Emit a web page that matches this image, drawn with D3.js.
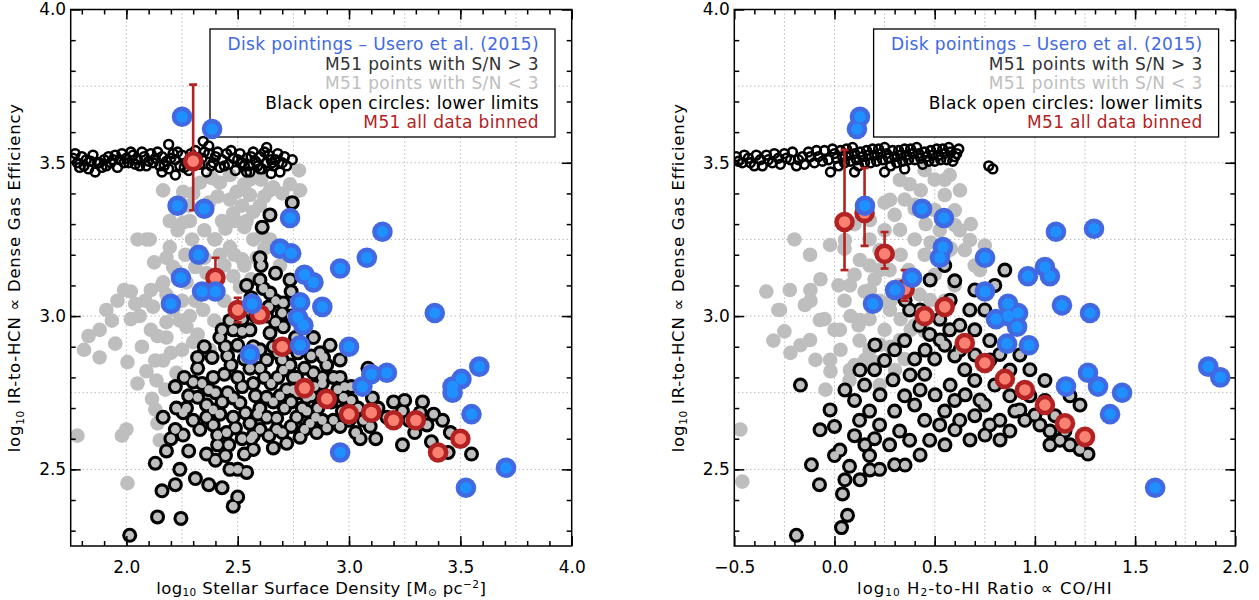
<!DOCTYPE html>
<html lang="en">
<head>
<meta charset="UTF-8">
<title>M51 dense gas efficiency</title>
<style>
  body { margin: 0; background: #fff; }
  svg { display: block; font-family: "DejaVu Sans", sans-serif; }
  .grid line { stroke: #999; stroke-width: 1; stroke-dasharray: 1 3; }
  .axis path { display: none; }
  .axis line { stroke: #000; stroke-width: 1.5; }
  .axis text { font-size: 17px; fill: #000; font-family: "DejaVu Sans", sans-serif; }
  .legend text { font-size: 17px; letter-spacing: 0.35px; }
  .title { font-size: 16.5px; fill: #000; }
</style>
</head>
<body>
<svg id="chart" width="1259" height="600"></svg>
<script src="https://cdn.jsdelivr.net/npm/d3@7"></script>
<script>
// ---- data, left panel: stellar surface density ----
const limitL = [[1.76,3.515],[1.78,3.50],[1.80,3.52],[1.81,3.49],[1.83,3.48],[1.84,3.505],[1.86,3.47],[1.87,3.50],[1.89,3.485],[1.90,3.51],
  [1.92,3.52],[1.93,3.50],[1.95,3.525],[1.97,3.51],[1.98,3.53],[2.00,3.515],[2.01,3.50],[2.03,3.525],[2.05,3.51],[2.06,3.49],
  [2.08,3.52],[2.10,3.505],[2.11,3.53],[2.13,3.515],[2.15,3.49],[2.16,3.52],[2.18,3.505],[2.19,3.48],[2.21,3.53],[2.22,3.51],
  [2.24,3.49],[2.25,3.525],[2.27,3.50],[2.28,3.475],[2.30,3.52],[2.31,3.54],[2.33,3.495],[2.34,3.515],[2.36,3.47],[2.37,3.53],
  [2.39,3.50],[2.40,3.52],[2.42,3.485],[2.43,3.51],[2.45,3.53],[2.46,3.495],[2.48,3.515],[2.49,3.475],[2.51,3.53],[2.52,3.50],
  [2.54,3.515],[2.55,3.49],[2.57,3.535],[2.58,3.505],[2.60,3.52],[2.61,3.48],[2.63,3.50],[2.64,3.525],[2.66,3.49],[2.67,3.51],
  [2.69,3.47],[2.70,3.50],[2.745,3.51],[2.19,3.56],[2.345,3.57],[2.37,3.555],[2.63,3.55],[2.555,3.47],[2.54,3.47],[2.60,3.48],
  [2.655,3.50],[2.22,3.46],[2.16,3.47],[2.65,3.465],[1.77,3.53],[1.79,3.485],[1.82,3.51],[1.85,3.525],[1.88,3.50],[1.91,3.49],
  [1.94,3.51],[1.96,3.485],[1.99,3.50],[2.02,3.535],[2.04,3.495],[2.07,3.535],[2.09,3.49],[2.12,3.50],[2.14,3.535],[2.17,3.49],
  [2.20,3.515],[2.23,3.535],[2.26,3.485],[2.29,3.53],[2.32,3.51],[2.35,3.535],[2.38,3.49],[2.41,3.535],[2.44,3.49],[2.47,3.54],
  [2.50,3.51],[2.53,3.49],[2.56,3.52],[2.59,3.49],[2.62,3.535],[2.65,3.51],[2.68,3.53],[2.72,3.49],[2.71,3.52]];

const faintL = [[1.78,2.61],[1.98,2.61],[2.00,2.63],[1.83,2.935],[1.81,2.89],[1.88,2.865],[1.95,2.91],[1.935,2.985],[1.88,2.955],
  [1.99,3.085],[2.02,3.08],[2.04,3.04],[2.06,3.00],[2.085,3.05],[2.11,3.085],[2.02,2.99],[2.11,2.955],[2.005,2.85],[2.13,2.855],
  [2.18,2.93],[2.175,2.76],[2.13,2.695],[2.05,3.25],[2.09,3.25],[2.125,3.175],[2.16,3.10],[2.18,3.07],[2.22,3.15],[2.23,3.28],
  [2.285,3.31],[2.265,3.20],[2.295,3.25],[2.35,3.28],[2.395,3.25],[2.43,3.31],[2.465,3.38],[2.495,3.405],[2.53,3.43],[2.555,3.395],
  [2.60,3.36],[2.465,3.46],[2.385,3.45],[2.33,3.435],[2.44,3.165],[2.485,3.20],[2.53,3.165],[2.61,3.265],[2.645,3.25],[2.605,3.445],
  [2.645,3.41],[2.735,3.43],[2.775,3.475],[2.78,3.41],[2.49,3.31],[2.53,3.29],[2.69,3.165],[2.31,3.05],[2.285,3.00],[2.24,2.985],
  [2.32,2.94],[2.375,2.89],[2.395,2.985],[2.44,3.05],[2.005,2.455],[2.165,3.41],[2.30,3.40],[2.255,3.405],[2.42,3.435],[2.555,3.445],
  [2.66,3.42],[2.195,3.31],[2.255,3.305],[2.445,3.305],[2.48,3.335],[2.54,3.31],[2.57,3.25],[2.40,3.25],[2.465,3.225],[2.195,3.225],
  [2.105,3.25],[2.585,3.19],[2.445,3.285],[2.18,3.19],[2.21,3.16],[2.165,3.11],[2.12,3.03],[2.18,2.98],[2.14,2.935],[2.27,2.965],
  [2.30,2.915],[2.25,2.89],[2.165,2.855],[2.225,2.815],[2.135,2.79],[2.115,2.73],[2.14,2.65],[2.15,2.595],[2.48,3.13],[2.52,3.185],
  [2.51,3.095],[2.345,3.02],[2.37,3.37],[2.41,3.39],[2.28,3.36],[2.52,3.36],[2.57,3.34],[2.62,3.39],[2.70,3.40],[2.36,3.14],
  [2.31,3.16],[2.27,3.11],[2.35,3.19],[2.42,3.20],[2.56,3.12],[2.62,3.22],[2.25,3.05],[2.21,3.02],[2.07,2.90],[2.09,2.82],
  [2.20,2.88],[2.05,2.78],[1.96,3.05],[1.91,3.02]];

const brightL = [[2.60,3.19],[2.605,3.165],[2.67,3.14],[2.735,3.118],[2.54,3.10],[2.60,3.118],[2.615,3.09],[2.645,3.075],[2.67,3.05],
  [2.705,3.043],[2.70,3.01],[2.465,2.985],[2.43,2.955],[2.48,2.955],[2.52,2.95],[2.555,2.955],[2.42,2.93],[2.445,2.90],[2.455,2.87],
  [2.385,2.865],[2.32,2.865],[2.32,2.83],[2.39,2.80],[2.22,2.77],[2.50,2.905],[2.555,2.83],[2.60,2.89],[2.63,2.857],[2.645,2.945],
  [2.705,2.965],[2.70,2.857],[2.735,2.84],[2.705,2.824],[2.75,2.80],[2.80,2.83],[2.84,2.815],[2.88,2.80],[2.88,2.78],[2.845,2.77],
  [2.81,2.735],[2.915,2.905],[2.885,2.865],[2.87,2.88],[2.975,2.735],[2.32,2.735],[2.27,2.70],[2.225,2.70],[2.255,2.685],[2.165,2.67],
  [2.22,2.63],[2.255,2.612],[2.39,2.694],[2.39,2.645],[2.41,2.612],[2.455,2.75],[2.48,2.733],[2.51,2.717],[2.535,2.684],[2.48,2.67],
  [2.49,2.635],[2.555,2.65],[2.57,2.61],[2.60,2.70],[2.63,2.735],[2.63,2.67],[2.675,2.667],[2.675,2.63],[2.75,2.76],[2.71,2.70],
  [2.765,2.67],[2.81,2.69],[2.825,2.65],[2.855,2.62],[2.78,2.605],[2.72,2.585],[2.66,2.57],[2.765,2.80],[2.96,2.857],[2.30,2.785],
  [2.015,2.285],[2.14,2.345],[2.13,2.52],[2.16,2.43],[2.245,2.34],[2.24,2.50],[2.50,2.41],[2.48,2.38],[2.465,2.50],[2.445,2.545],
  [2.745,3.37],[2.645,3.33],[2.61,3.29],[2.36,2.55],[2.40,2.53],[2.53,2.55],[2.57,2.565],[2.50,2.50],[2.54,2.49],[3.085,2.83],
  [3.105,2.733],[3.065,2.66],[3.05,2.60],[3.095,2.64],[3.25,2.725],[3.24,2.69],[3.32,2.685],[3.35,2.645],[3.295,2.62],[3.24,2.58],
  [3.455,2.62],[3.445,2.555],[3.55,2.55],[3.01,2.725],[2.96,2.80],[2.97,2.69],[2.93,2.66],[2.90,2.635],[2.96,2.64],[3.01,2.77],
  [3.03,2.62],[2.92,2.72],[2.86,2.70],[2.35,2.90],[2.37,2.76],[2.40,2.75],[2.43,2.72],[2.44,2.81],[2.47,2.84],[2.50,2.80],
  [2.52,2.77],[2.53,2.86],[2.57,2.78],[2.58,2.74],[2.59,2.68],[2.62,2.80],[2.65,2.78],[2.66,2.72],[2.68,2.80],[2.69,2.74],
  [2.72,2.76],[2.74,2.72],[2.77,2.75],[2.79,2.70],[2.83,2.74],[2.85,2.67],[2.88,2.66],[2.56,2.60],[2.60,2.63],[2.64,2.61],
  [2.70,2.62],[2.74,2.64],[2.80,2.63],[2.45,2.62],[2.42,2.68],[2.36,2.67],[2.33,2.63],[2.30,2.66],[2.28,2.74],[2.26,2.80],
  [2.34,2.78],[2.36,2.71],[2.52,2.60],[2.46,2.58],[2.41,2.58],[2.60,2.83],[2.57,2.90],[2.66,2.90],[2.68,2.88],[2.73,2.90],
  [2.77,2.88],[2.83,2.87],[2.52,2.99],[2.58,3.00],[2.63,3.00],[2.67,2.98],[2.74,3.00],[2.56,3.06],[2.64,3.03],[2.74,3.08],
  [2.76,2.93],[2.84,2.93],[2.90,2.84],[2.93,2.80],[2.95,2.76],[2.98,2.77],[3.04,2.70],[3.00,2.66],[3.13,2.70],[3.17,2.67],
  [3.20,2.72],[3.27,2.66],[3.33,2.72],[3.38,2.68],[3.42,2.66],[3.37,2.59],[3.12,2.60],[2.20,2.60],[2.18,2.56],[2.22,2.45],
  [2.28,2.56],[2.31,2.47],[2.37,2.45],[2.43,2.44]];

const diskL = [[2.25,3.65],[2.385,3.61],[2.23,3.36],[2.35,3.35],[2.735,3.32],[2.325,3.20],[2.69,3.22],[2.74,3.205],[2.245,3.125],
  [2.34,3.08],[2.40,3.08],[2.20,3.04],[2.565,3.04],[2.555,2.875],[2.80,3.135],[2.84,3.11],[2.96,3.155],[3.08,3.19],[3.15,3.275],
  [2.78,3.045],[2.88,3.03],[2.77,2.995],[2.795,2.97],[2.78,2.905],[3.0,2.90],[2.96,2.555],[3.385,3.01],[3.10,2.81],[3.17,2.815],
  [3.06,2.77],[3.505,2.795],[3.465,2.77],[3.465,2.75],[3.585,2.835],[3.55,2.68],[3.705,2.505],[3.525,2.44]];

const binXL  = [2.3, 2.4, 2.5, 2.6, 2.7, 2.8, 2.9, 3.0, 3.1, 3.2, 3.3, 3.4, 3.5];
const binYL  = [3.505, 3.125, 3.02, 3.005, 2.90, 2.765, 2.73, 2.68, 2.685, 2.66, 2.66, 2.555, 2.60];
const binLoL = [3.345, 3.06, 2.98, 2.985, 2.88, 2.75, 2.715, 2.665, 2.67, 2.645, 2.645, 2.54, 2.585];
const binHiL = [3.755, 3.19, 3.06, 3.025, 2.92, 2.78, 2.745, 2.695, 2.70, 2.675, 2.675, 2.57, 2.615];

// ---- data, right panel: H2-to-HI ratio ----
const limitR = [[-0.49,3.52],[-0.46,3.50],[-0.43,3.515],[-0.40,3.49],[-0.37,3.51],[-0.34,3.525],[-0.31,3.50],[-0.28,3.515],[-0.25,3.53],
  [-0.22,3.51],[-0.19,3.49],[-0.16,3.52],[-0.13,3.535],[-0.10,3.50],[-0.08,3.52],[-0.05,3.54],[-0.03,3.51],[0.0,3.53],[0.02,3.49],
  [0.04,3.52],[0.06,3.545],[0.08,3.505],[0.10,3.53],[0.12,3.49],[0.14,3.52],[0.16,3.54],[0.18,3.50],[0.20,3.525],[0.22,3.545],
  [0.24,3.51],[0.26,3.53],[0.28,3.49],[0.30,3.52],[0.32,3.54],[0.34,3.505],[0.36,3.525],[0.38,3.545],[0.40,3.51],[0.42,3.53],
  [0.44,3.495],[0.46,3.52],[0.48,3.54],[0.50,3.505],[0.52,3.525],[0.54,3.545],[0.56,3.51],[0.58,3.535],[0.60,3.52],[0.77,3.49],
  [0.79,3.48],[0.10,3.47],[0.25,3.47],[0.35,3.48],[-0.02,3.47],[-0.48,3.505],[-0.45,3.525],[-0.42,3.50],[-0.39,3.525],[-0.36,3.49],
  [-0.33,3.51],[-0.30,3.53],[-0.27,3.495],[-0.24,3.515],[-0.21,3.535],[-0.18,3.51],[-0.15,3.495],[-0.12,3.52],[-0.09,3.54],[-0.06,3.505],
  [-0.01,3.545],[0.01,3.515],[0.03,3.54],[0.05,3.50],[0.07,3.525],[0.09,3.55],[0.11,3.51],[0.13,3.535],[0.15,3.50],[0.17,3.525],
  [0.19,3.545],[0.21,3.505],[0.23,3.53],[0.25,3.55],[0.27,3.515],[0.29,3.54],[0.31,3.50],[0.33,3.525],[0.35,3.545],[0.37,3.51],
  [0.39,3.53],[0.41,3.55],[0.43,3.515],[0.45,3.535],[0.47,3.505],[0.49,3.525],[0.51,3.545],[0.53,3.51],[0.55,3.53],[0.57,3.55],
  [0.59,3.505],[0.61,3.53],[0.62,3.545]];

const faintR = [[-0.46,2.46],[-0.47,2.63],[-0.34,3.08],[-0.305,2.92],[-0.22,2.88],[-0.17,2.905],[-0.12,3.085],[-0.07,3.12],[-0.20,3.25],
  [-0.12,3.05],[-0.05,2.99],[0.0,2.955],[-0.095,2.857],[-0.02,2.82],[-0.045,2.76],[0.03,2.89],[0.05,3.05],[0.10,3.135],[0.175,3.165],
  [0.225,3.215],[0.175,3.25],[0.25,3.28],[0.30,3.33],[0.35,3.38],[0.375,3.43],[0.43,3.41],[0.50,3.445],[0.55,3.395],[0.575,3.46],
  [0.60,3.345],[0.455,3.30],[0.40,3.25],[0.33,3.20],[0.275,3.15],[0.225,3.05],[0.175,2.99],[0.125,2.92],[0.175,2.89],[0.25,2.955],
  [0.33,2.99],[0.38,2.955],[0.425,3.07],[0.50,3.135],[0.525,3.28],[0.625,3.28],[0.65,3.215],[0.70,3.165],[0.75,3.23],[0.075,2.79],
  [0.225,2.775],[-0.28,3.02],[-0.25,2.95],[0.08,3.0],[0.12,2.97],[0.02,3.10],[0.15,3.08],[0.20,3.12],[0.28,3.05],[0.32,3.10],
  [0.37,3.15],[0.45,3.20],[0.48,3.24],[0.58,3.22],[0.40,3.35],[0.25,3.37],[0.10,3.30],[0.05,3.22],[0.28,2.90],[0.20,2.85],
  [0.10,2.84],[0.35,2.86],[0.45,2.95],[0.55,3.05],[0.60,3.10],[0.68,3.30],[0.326,3.444],[0.45,3.476],[0.55,3.444],[0.626,3.41],
  [0.277,3.379],[0.40,3.363],[0.50,3.346],[0.60,3.297],[0.327,3.281],[0.177,3.313],[0.227,3.15],[0.127,3.183],[0.077,3.10],
  [0.177,3.085],[0.277,3.02],[0.127,2.987],[0.027,2.955],[0.327,2.922],[0.40,2.97],[0.477,3.052],[0.576,3.216],[0.676,3.248],
  [0.726,3.15],[-0.073,2.987],[-0.148,3.036],[-0.223,3.085],[-0.272,3.02],[-0.122,2.922],[-0.022,2.857],[0.077,2.824],[0.152,2.857],
  [0.227,2.906],[0.302,2.824],[-0.022,3.232],[-0.122,3.20],[0.052,3.248]];

const brightR = [[-0.17,2.775],[0.0,2.64],[0.075,2.51],[0.04,2.42],[0.065,2.35],[0.035,2.31],[-0.19,2.285],[-0.115,2.515],[0.10,2.61],
  [0.125,2.66],[0.10,2.725],[0.175,2.69],[0.225,2.645],[0.20,2.60],[0.275,2.58],[0.325,2.625],[0.30,2.69],[0.35,2.74],[0.40,2.71],
  [0.45,2.66],[0.375,2.595],[0.475,2.595],[0.525,2.645],[0.55,2.69],[0.60,2.725],[0.625,2.66],[0.70,2.675],[0.75,2.71],[0.775,2.645],
  [0.825,2.66],[0.875,2.625],[0.90,2.69],[0.95,2.66],[1.025,2.645],[1.075,2.625],[1.125,2.595],[1.175,2.58],[1.225,2.565],[1.265,2.55],
  [1.15,2.625],[1.10,2.675],[1.05,2.725],[0.975,2.74],[0.875,2.74],[0.80,2.775],[0.70,2.79],[0.65,2.825],[0.60,2.87],[0.55,2.905],
  [0.50,2.86],[0.45,2.81],[0.40,2.86],[0.35,2.92],[0.30,2.89],[0.25,2.855],[0.20,2.825],[0.15,2.775],[0.375,3.02],[0.425,2.97],
  [0.475,2.94],[0.525,2.99],[0.575,2.955],[0.625,2.97],[0.675,3.02],[0.70,2.955],[0.775,2.92],[0.825,2.875],[0.75,3.02],[0.70,3.085],
  [0.80,3.10],[0.85,3.15],[0.60,3.115],[0.55,3.165],[0.975,2.825],[1.05,2.79],[1.175,2.74],[1.225,2.71],[-0.075,2.45],[0.0,2.545],
  [0.175,2.545],[0.225,2.50],[0.30,2.515],[0.227,2.743],[0.292,2.792],[0.427,2.759],[0.502,2.743],[0.577,2.775],[0.652,2.743],
  [0.726,2.726],[0.925,2.694],[1.0,2.677],[1.075,2.58],[0.826,2.596],[0.751,2.612],[0.676,2.596],[0.601,2.629],[0.551,2.58],
  [0.427,2.547],[0.352,2.514],[0.177,2.498],[0.127,2.466],[0.152,2.58],[0.377,2.808],[0.452,2.889],[0.527,2.922],[0.626,2.889],
  [0.701,2.873],[0.776,2.857],[0.875,2.824],[0.925,2.873],[0.477,3.118],[0.577,3.052],[0.427,3.02],[0.352,3.052],[0.202,2.906],
  [0.127,2.824],[0.052,2.759],[-0.022,2.694],[-0.072,2.629],[0.027,2.563],[0.052,2.466]];

const diskR = [[0.127,3.65],[0.112,3.61],[0.152,3.36],[0.192,3.04],[0.302,3.085],[0.387,3.125],[0.437,3.35],[0.546,3.32],[0.541,3.225],
  [0.526,3.19],[0.751,3.19],[0.751,3.08],[0.806,2.99],[0.866,3.0],[0.916,3.01],[0.965,3.13],[0.866,3.04],[0.861,2.91],[0.911,2.965],
  [0.97,2.905],[1.105,3.275],[1.05,3.16],[1.075,3.13],[1.135,3.035],[1.295,3.285],[1.275,3.01],[1.265,2.815],[1.315,2.77],[1.155,2.77],
  [1.375,2.68],[1.435,2.75],[1.60,2.44],[1.865,2.835],[1.925,2.80]];

const binXR  = [0.05, 0.15, 0.25, 0.35, 0.45, 0.55, 0.65, 0.75, 0.85, 0.95, 1.05, 1.15, 1.25];
const binYR  = [3.307, 3.336, 3.203, 3.088, 3.0, 3.03, 2.912, 2.847, 2.795, 2.759, 2.71, 2.65, 2.606];
const binLoR = [3.15, 3.229, 3.155, 3.05, 2.98, 3.01, 2.895, 2.83, 2.78, 2.745, 2.695, 2.635, 2.59];
const binHiR = [3.542, 3.483, 3.274, 3.15, 3.02, 3.05, 2.93, 2.865, 2.81, 2.775, 2.725, 2.665, 2.62];

// ---- ticks and labels ----
const yDomain = [2.25, 4.0];
const yTicks = [2.5, 3.0, 3.5, 4.0];
const xTicksL = [2.0, 2.5, 3.0, 3.5, 4.0];
const xTicksR = [-0.5, 0.0, 0.5, 1.0, 1.5, 2.0];
const legendLines = [
  ['Disk pointings \u2013 Usero et al. (2015)', '#4169e1'],
  ['M51 points with S/N > 3', '#333333'],
  ['M51 points with S/N < 3', '#bebebe'],
  ['Black open circles: lower limits', '#000000'],
  ['M51 all data binned', '#b22222']
];

const svg = d3.select('#chart');
const plotTop = 9.5, plotBottom = 546;

function drawPanel(p) {
  const x = d3.scaleLinear().domain(p.xDomain).range([p.left, p.right]);
  const y = d3.scaleLinear().domain(yDomain).range([plotBottom, plotTop]);
  const g = svg.append('g');

  svg.append('clipPath').attr('id', 'clip' + p.id)
    .append('rect').attr('x', p.left).attr('y', plotTop)
    .attr('width', p.right - p.left).attr('height', plotBottom - plotTop);

  // dotted grid every 0.25
  const grid = g.append('g').attr('class', 'grid');
  grid.selectAll('.gx').data(p.xGrid).join('line')
    .attr('x1', d => x(d)).attr('x2', d => x(d)).attr('y1', plotTop).attr('y2', plotBottom);
  grid.selectAll('.gy').data(d3.range(10, 16).map(v => v / 4)).join('line')
    .attr('x1', p.left).attr('x2', p.right).attr('y1', d => y(d)).attr('y2', d => y(d));

  // legend box sits under the points
  const lx = p.left + 139.3, lw = 345;
  g.append('rect').attr('x', lx).attr('y', 29).attr('width', lw).attr('height', 108)
    .attr('fill', '#fff').attr('stroke', '#000').attr('stroke-width', 1.3);

  const m = g.append('g').attr('clip-path', `url(#clip${p.id})`);

  m.append('g').selectAll('circle').data(p.faint).join('circle')
    .attr('cx', d => x(d[0])).attr('cy', d => y(d[1])).attr('r', 7.3).attr('fill', '#bebebe');

  m.append('g').selectAll('circle').data(p.limits).join('circle')
    .attr('cx', d => x(d[0])).attr('cy', d => y(d[1])).attr('r', 4.4)
    .attr('fill', 'none').attr('stroke', '#000').attr('stroke-width', 2.6);

  m.append('g').selectAll('circle').data(p.bright).join('circle')
    .attr('cx', d => x(d[0])).attr('cy', d => y(d[1])).attr('r', 7.5).attr('fill', '#000');
  m.append('g').selectAll('circle').data(p.bright).join('circle')
    .attr('cx', d => x(d[0])).attr('cy', d => y(d[1])).attr('r', 4.4).attr('fill', '#bebebe');

  // binned medians with error bars
  const bins = p.binX.map((bx, i) => ({x: bx, y: p.binY[i], lo: p.binLo[i], hi: p.binHi[i]}));
  const eb = m.append('g').attr('stroke', '#b22222').attr('stroke-width', 2.6);
  eb.selectAll('.bar').data(bins).join('line')
    .attr('x1', d => x(d.x)).attr('x2', d => x(d.x)).attr('y1', d => y(d.lo)).attr('y2', d => y(d.hi));
  eb.selectAll('.capl').data(bins).join('line')
    .attr('x1', d => x(d.x) - 4).attr('x2', d => x(d.x) + 4).attr('y1', d => y(d.lo)).attr('y2', d => y(d.lo));
  eb.selectAll('.caph').data(bins).join('line')
    .attr('x1', d => x(d.x) - 4).attr('x2', d => x(d.x) + 4).attr('y1', d => y(d.hi)).attr('y2', d => y(d.hi));
  m.append('g').selectAll('circle').data(bins).join('circle')
    .attr('cx', d => x(d.x)).attr('cy', d => y(d.y)).attr('r', 10.3).attr('fill', '#b22222');
  m.append('g').selectAll('circle').data(bins).join('circle')
    .attr('cx', d => x(d.x)).attr('cy', d => y(d.y)).attr('r', 5.8).attr('fill', '#fa8072');

  // Usero et al. disk pointings
  m.append('g').selectAll('circle').data(p.disk).join('circle')
    .attr('cx', d => x(d[0])).attr('cy', d => y(d[1])).attr('r', 10.3).attr('fill', '#4169e1');
  m.append('g').selectAll('circle').data(p.disk).join('circle')
    .attr('cx', d => x(d[0])).attr('cy', d => y(d[1])).attr('r', 5.8).attr('fill', '#1e90ff');

  // axes: ticks inward on all four sides
  const minorX = p.xMinor, minorY = d3.range(23, 40).map(v => v / 10);
  const fmt = d3.format('.1f');
  g.append('g').attr('class', 'axis').attr('transform', `translate(0,${plotBottom})`)
    .call(d3.axisBottom(x).tickValues(p.xTicks).tickSize(-10).tickPadding(15).tickFormat(fmt));
  g.append('g').attr('class', 'axis').attr('transform', `translate(0,${plotBottom})`)
    .call(d3.axisBottom(x).tickValues(minorX).tickSize(-5).tickFormat(''));
  g.append('g').attr('class', 'axis').attr('transform', `translate(0,${plotTop})`)
    .call(d3.axisTop(x).tickValues(p.xTicks).tickSize(-10).tickFormat(''));
  g.append('g').attr('class', 'axis').attr('transform', `translate(0,${plotTop})`)
    .call(d3.axisTop(x).tickValues(minorX).tickSize(-5).tickFormat(''));
  g.append('g').attr('class', 'axis').attr('transform', `translate(${p.left},0)`)
    .call(d3.axisLeft(y).tickValues(yTicks).tickSize(-10).tickPadding(4.5).tickFormat(fmt));
  g.append('g').attr('class', 'axis').attr('transform', `translate(${p.left},0)`)
    .call(d3.axisLeft(y).tickValues(minorY).tickSize(-5).tickFormat(''));
  g.append('g').attr('class', 'axis').attr('transform', `translate(${p.right},0)`)
    .call(d3.axisRight(y).tickValues(yTicks).tickSize(-10).tickFormat(''));
  g.append('g').attr('class', 'axis').attr('transform', `translate(${p.right},0)`)
    .call(d3.axisRight(y).tickValues(minorY).tickSize(-5).tickFormat(''));

  g.append('rect').attr('x', p.left).attr('y', plotTop)
    .attr('width', p.right - p.left).attr('height', plotBottom - plotTop)
    .attr('fill', 'none').attr('stroke', '#000').attr('stroke-width', 1.5);

  // legend text
  const lg = g.append('g').attr('class', 'legend');
  lg.selectAll('text').data(legendLines).join('text')
    .attr('x', lx + lw - 16).attr('y', (d, i) => 50 + i * 19.5)
    .attr('text-anchor', 'end').attr('fill', d => d[1]).text(d => d[0]);

  // axis titles
  const xt = g.append('text').attr('class', 'title').style('letter-spacing', p.xSpacing + 'px')
    .attr('x', (p.left + p.right) / 2).attr('y', 593.5).attr('text-anchor', 'middle');
  p.xTitle(xt);

  const yt = g.append('text').attr('class', 'title').attr('text-anchor', 'middle')
    .style('letter-spacing', '0.75px')
    .attr('transform', `translate(${p.left - 50.5},${(plotTop + plotBottom) / 2}) rotate(-90)`);
  yt.append('tspan').text('log');
  yt.append('tspan').attr('font-size', 10.5).attr('dy', 3.5).text('10');
  yt.append('tspan').attr('dy', -3.5).text(' IR-to-HCN \u221d Dense Gas Efficiency');
}

drawPanel({
  id: 'L', left: 70.7, right: 571.7, xDomain: [1.75, 4.0], xSpacing: 0.4,
  xTicks: xTicksL, xMinor: d3.range(18, 40).map(v => v / 10), xGrid: d3.range(8, 16).map(v => v / 4),
  faint: faintL, limits: limitL, bright: brightL, disk: diskL,
  binX: binXL, binY: binYL, binLo: binLoL, binHi: binHiL,
  xTitle: t => {
    t.append('tspan').text('log');
    t.append('tspan').attr('font-size', 10.5).attr('dy', 2.8).text('10');
    t.append('tspan').attr('dy', -2.8).text(' Stellar Surface Density [M');
    t.append('tspan').attr('font-size', 10.5).attr('dy', 2.5).text('\u2299');
    t.append('tspan').attr('dy', -2.5).text(' pc');
    t.append('tspan').attr('font-size', 10.5).attr('dy', -5.5).text('\u22122');
    t.append('tspan').attr('dy', 5.5).text(']');
  }
});

drawPanel({
  id: 'R', left: 734.3, right: 1235.3, xDomain: [-0.5, 2.0], xSpacing: 1.05,
  xTicks: xTicksR, xMinor: d3.range(-4, 20).map(v => v / 10), xGrid: d3.range(-1, 8).map(v => v / 4),
  faint: faintR, limits: limitR, bright: brightR, disk: diskR,
  binX: binXR, binY: binYR, binLo: binLoR, binHi: binHiR,
  xTitle: t => {
    t.append('tspan').text('log');
    t.append('tspan').attr('font-size', 10.5).attr('dy', 2.8).text('10');
    t.append('tspan').attr('dy', -2.8).text(' H');
    t.append('tspan').attr('font-size', 10.5).attr('dy', 2.8).text('2');
    t.append('tspan').attr('dy', -2.8).text('-to-HI Ratio \u221d CO/HI');
  }
});
</script>
</body>
</html>
